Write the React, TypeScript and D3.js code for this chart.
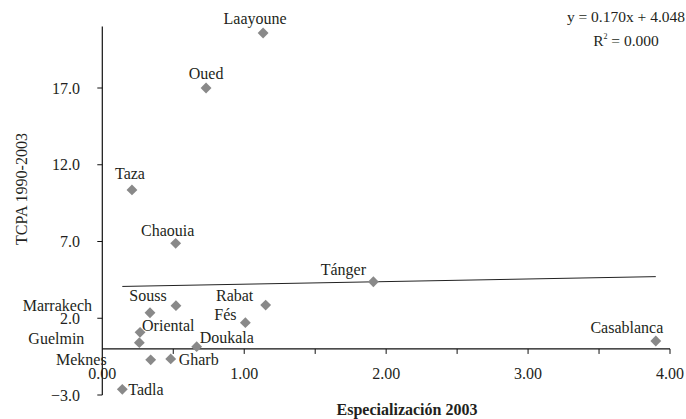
import React from "react";
import * as d3 from "d3";

const regions = ["Laayoune", "Oued", "Taza", "Chaouia", "Souss", "Marrakech", "Rabat", "Fés", "Oriental", "Guelmin", "Doukala", "Meknes", "Gharb", "Tadla", "Tánger", "Casablanca"];
const especializacion = [1.133, 0.731, 0.209, 0.517, 0.519, 0.336, 1.151, 1.008, 0.266, 0.261, 0.665, 0.341, 0.482, 0.141, 1.91, 3.9];
const tcpa = [20.58, 17.0, 10.36, 6.88, 2.82, 2.36, 2.86, 1.71, 1.08, 0.41, 0.15, -0.71, -0.65, -2.63, 4.38, 0.52];
const xTickLabels = [0, 1, 2, 3, 4];
const xMinorTicks = [0.5, 1, 1.5, 2, 2.5, 3, 3.5, 4];
const yTickLabels = [-3, 2, 7, 12, 17];
const slope = 0.17;
const intercept = 4.048;
const equationText = "y = 0.170x + 4.048";

// label placement (layout only): [dx, dy, anchor]
const labelPlacement: Record<string, [number, number, string]> = {
  Laayoune: [-8, -9, "middle"],
  Oued: [0, -9, "middle"],
  Taza: [-2, -11, "middle"],
  Chaouia: [-8, -7, "middle"],
  Souss: [-28, -5, "middle"],
  Marrakech: [-58, -2, "end"],
  Rabat: [-31, -4, "middle"],
  "Fés": [-20, -3, "middle"],
  Oriental: [2, -1, "start"],
  Guelmin: [-55, 1, "end"],
  Doukala: [3, -4, "start"],
  Meknes: [-44, 5, "end"],
  Gharb: [8, 6, "start"],
  Tadla: [6, 6, "start"],
  "Tánger": [-30, -7, "middle"],
  Casablanca: [-29, -8, "middle"],
};

const W = 686;
const H = 419;
const FONT = "'Liberation Serif', 'Times New Roman', serif";
const TEXT = "#231f20";

export default function App() {
  const x = d3.scaleLinear().domain([0, 4]).range([102.3, 670]);
  const y = d3.scaleLinear().domain([-3, 21]).range([395, 26.6]);
  const xs = especializacion;
  const xMin = d3.min(xs) as number;
  const xMax = d3.max(xs) as number;
  const trend = d3.line<number>().x((d) => x(d)).y((d) => y(slope * d + intercept));
  const diamond = d3.symbol().type(d3.symbolDiamond2).size(75)();

  return (
    <svg width={W} height={H} style={{ position: "absolute", left: 0, top: 0, background: "#fff" }} fontFamily={FONT}>
      {/* y axis */}
      <line x1={x(0)} x2={x(0)} y1={y(21)} y2={y(-3)} stroke="#111" strokeWidth={1.2} />
      {yTickLabels.map((t) => (
        <g key={"yt" + t}>
          <line x1={x(0) - 5} x2={x(0)} y1={y(t)} y2={y(t)} stroke="#111" strokeWidth={1} />
          <text x={80} y={y(t)} dy="0.35em" textAnchor="end" fontSize={16} fill={TEXT}>
            {d3.format(".1f")(t)}
          </text>
        </g>
      ))}
      {/* x axis at y=0 */}
      <line x1={x(0)} x2={x(4)} y1={y(0)} y2={y(0)} stroke="#111" strokeWidth={1.2} />
      {xMinorTicks.map((t) => (
        <line key={"xm" + t} x1={x(t)} x2={x(t)} y1={y(0)} y2={y(0) + 5} stroke="#111" strokeWidth={1} />
      ))}
      {xTickLabels.map((t) => (
        <text key={"xt" + t} x={x(t)} y={379} textAnchor="middle" fontSize={16} fill={TEXT}>
          {d3.format(".2f")(t)}
        </text>
      ))}
      {/* trend line */}
      <path d={trend([xMin, xMax]) || ""} fill="none" stroke="#222" strokeWidth={1} />
      {/* points */}
      {regions.map((r, i) => (
        <path key={"p" + r} d={diamond || ""} transform={`translate(${x(xs[i])},${y(tcpa[i])})`} fill="#898989" />
      ))}
      {regions.map((r, i) => {
        const [dx, dy, anchor] = labelPlacement[r];
        return (
          <text key={"l" + r} x={x(xs[i]) + dx} y={y(tcpa[i]) + dy} textAnchor={anchor as any} fontSize={16} fill={TEXT}>
            {r}
          </text>
        );
      })}
      {/* equation */}
      <text x={626} y={22} textAnchor="middle" fontSize={15.5} fill={TEXT}>{equationText}</text>
      <text x={626} y={46} textAnchor="middle" fontSize={15.5} fill={TEXT}>
        R<tspan fontSize={8} dy={-7}>2</tspan><tspan dy={7}> = 0.000</tspan>
      </text>
      {/* axis titles */}
      <text x={407} y={415} textAnchor="middle" fontSize={16} fontWeight="bold" fill={TEXT}>
        Especialización 2003
      </text>
      <text transform={`translate(27,189) rotate(-90)`} textAnchor="middle" fontSize={16} fill={TEXT}>
        TCPA 1990-2003
      </text>
    </svg>
  );
}
